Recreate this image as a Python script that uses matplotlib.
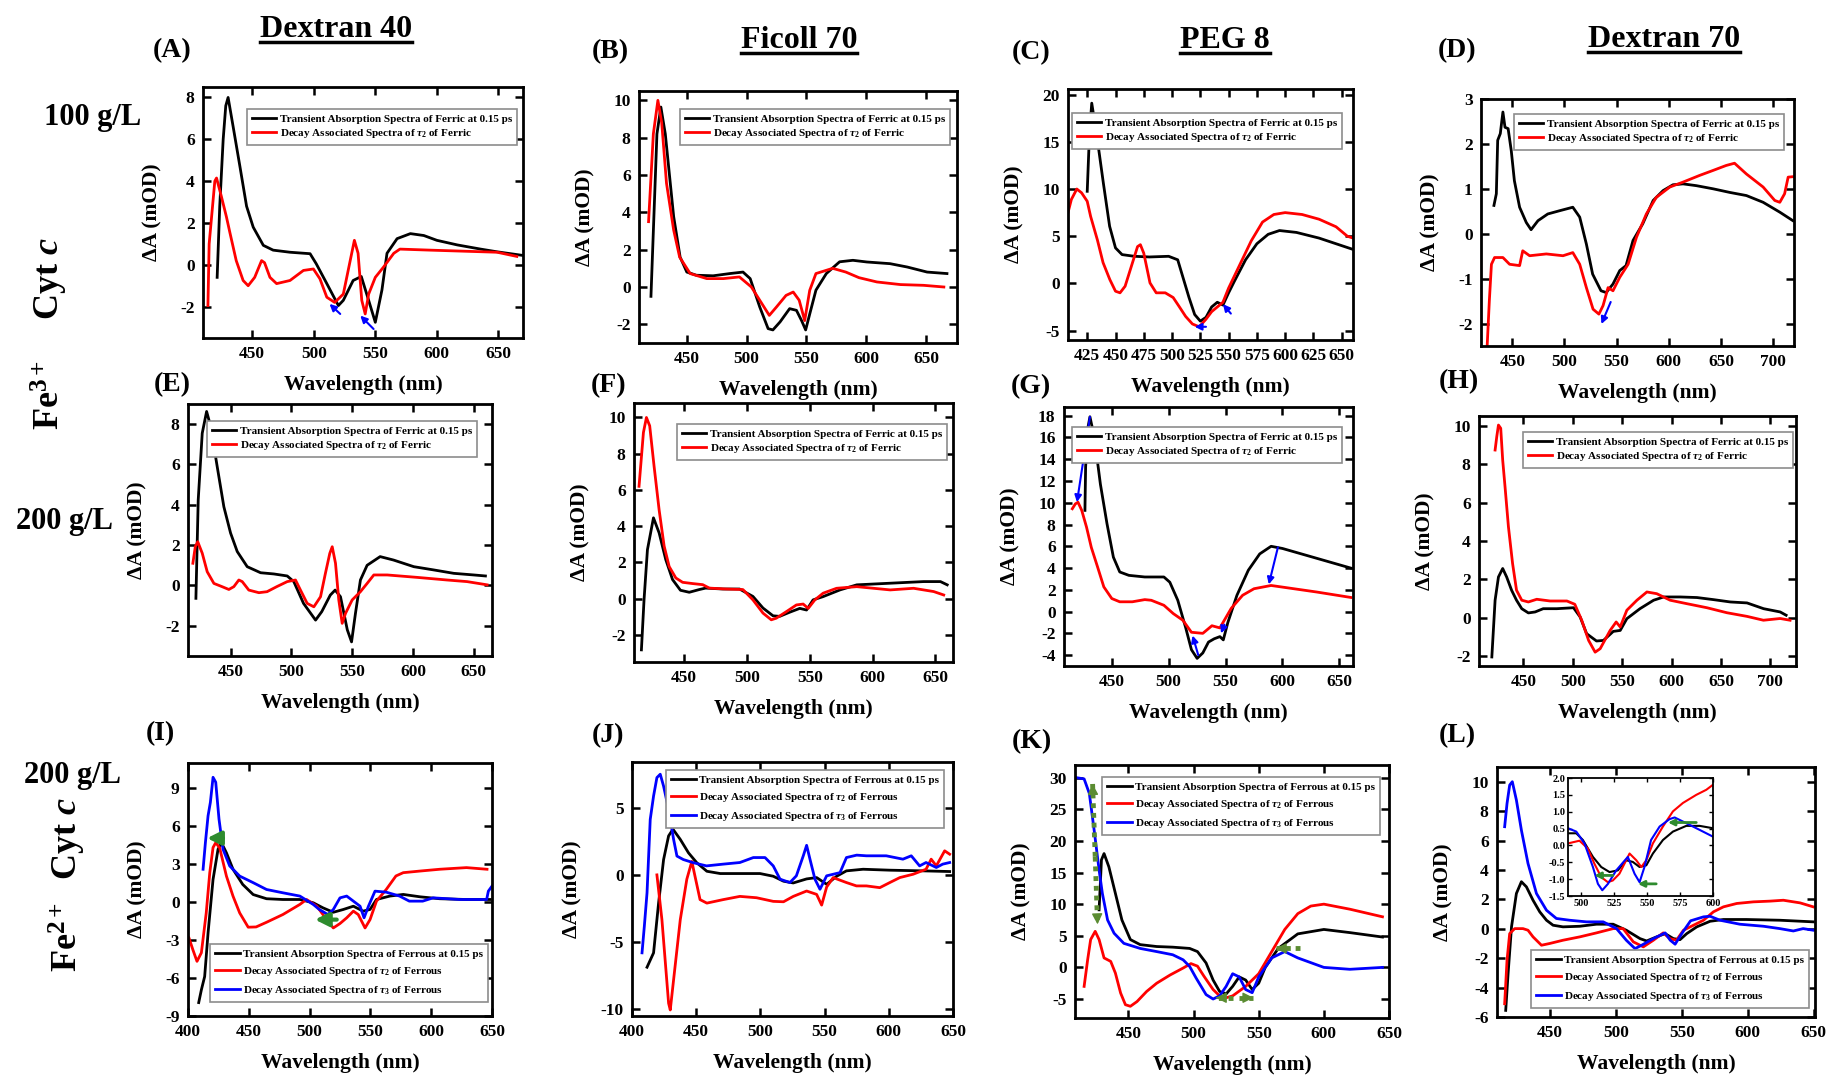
import matplotlib
matplotlib.use('Agg')
import matplotlib.pyplot as plt
from matplotlib.lines import Line2D

W, H = 1830, 1076

# ---- spectra: wavelength (nm) / dA (mOD) ----
A_BLACK_X = [421.5, 423.6, 426.4, 428.5, 430.4, 434.5, 440, 445.4, 450.8, 459, 467, 480.7, 497, 502, 510.6, 520, 524, 532, 538.6, 544.6, 550, 555.4, 559.5, 567.7, 578.5, 589.4, 600, 616.6, 635.6, 649, 669.6]
A_BLACK_Y = [-0.6, 2.8, 6.0, 7.6, 8.0, 6.6, 4.7, 2.8, 1.8, 0.93, 0.7, 0.6, 0.53, 0.05, -0.9, -1.95, -1.7, -0.75, -0.56, -1.7, -2.75, -1.2, 0.55, 1.25, 1.49, 1.4, 1.17, 0.95, 0.75, 0.62, 0.45]
A_RED_X = [414, 415, 419.6, 421, 425, 429, 432, 437, 442.6, 446.7, 452, 457.6, 460, 464.4, 469.8, 480.7, 491.6, 499.7, 505, 510.6, 517, 524, 529.6, 533, 536, 539, 541.8, 544.6, 550, 556.8, 565, 570, 594.8, 622, 649, 665]
A_RED_Y = [-1.95, 1.0, 4.0, 4.15, 3.25, 2.3, 1.5, 0.2, -0.75, -1.0, -0.6, 0.2, 0.1, -0.6, -0.9, -0.75, -0.27, -0.2, -0.67, -1.55, -1.8, -1.4, 0.2, 1.17, 0.55, -1.7, -2.35, -1.4, -0.6, -0.1, 0.55, 0.75, 0.7, 0.65, 0.6, 0.4]

B_BLACK_X = [420, 425, 428.3, 432, 439, 444.4, 450, 458, 472, 486, 497, 503, 511, 518, 522, 528, 536, 541.7, 546, 549.4, 553, 558, 566.7, 577.8, 588.9, 600.6, 620, 634.4, 651, 667.6]
B_BLACK_Y = [-0.5, 8.2, 9.64, 8.2, 3.77, 1.6, 0.8, 0.63, 0.6, 0.72, 0.8, 0.45, -1.07, -2.23, -2.3, -1.87, -1.16, -1.25, -1.8, -2.3, -1.4, -0.17, 0.72, 1.35, 1.43, 1.34, 1.25, 1.07, 0.8, 0.72]
B_RED_X = [418, 422, 425.8, 429, 433, 439, 444, 452.8, 466.7, 480.6, 494, 504, 511, 519, 525, 533, 539, 544, 548.6, 552.8, 558, 572, 583, 594, 609, 628.7, 648, 665]
B_RED_Y = [3.5, 8.2, 10.0, 8.8, 5.56, 3.05, 1.6, 0.72, 0.45, 0.45, 0.54, 0, -0.71, -1.52, -1.07, -0.45, -0.27, -0.71, -1.8, -0.18, 0.72, 1.0, 0.8, 0.5, 0.27, 0.13, 0.09, 0.0]

C_BLACK_X = [425, 427, 429, 434, 439.3, 444.8, 450, 455.8, 466.7, 480, 497, 505, 510, 515, 520, 525, 530, 535, 540, 545, 550, 555, 565, 575, 585, 595, 610, 630, 645, 660]
C_BLACK_Y = [9.76, 15.9, 19.1, 15.2, 10.6, 6.05, 3.76, 3.05, 2.87, 2.8, 2.87, 2.5, 0.5, -1.5, -3.3, -4.0, -3.6, -2.5, -2.0, -2.3, -1.0, 0.2, 2.5, 4.2, 5.2, 5.6, 5.4, 4.8, 4.2, 3.6]
C_RED_X = [408, 411, 415.8, 420, 425, 428, 434, 439, 445, 450, 454, 458.5, 464, 469.5, 472, 475, 480.5, 486, 494, 501, 506, 512, 518, 524, 530, 535, 540, 545, 550, 560, 570, 580, 590, 600, 615, 630, 645, 655, 660]
C_RED_Y = [7.5, 8.9, 10.0, 9.6, 8.7, 7.1, 4.6, 2.2, 0.4, -0.83, -1.0, -0.3, 1.8, 3.9, 4.1, 3.2, 0.05, -1.0, -1.0, -1.5, -2.4, -3.5, -4.3, -4.6, -3.8, -3.0, -2.5, -2.0, -0.5, 2.0, 4.5, 6.5, 7.3, 7.5, 7.3, 6.8, 6.0, 5.0, 4.8]

D_BLACK_X = [432.4, 434.7, 436, 438.5, 441, 443, 446, 449, 452, 457, 463.4, 468, 474.6, 484, 495, 508, 514.6, 521, 527, 535, 540, 546.5, 553, 559, 565.7, 575, 585, 594.5, 604, 613.7, 626.5, 642.5, 658.4, 674.4, 690.4, 706.4, 719]
D_BLACK_Y = [0.63, 0.89, 2.08, 2.23, 2.71, 2.37, 2.34, 1.85, 1.18, 0.59, 0.25, 0.09, 0.29, 0.44, 0.51, 0.59, 0.37, -0.23, -0.9, -1.27, -1.31, -1.12, -0.82, -0.71, -0.15, 0.22, 0.74, 0.96, 1.09, 1.11, 1.07, 1.0, 0.92, 0.85, 0.7, 0.48, 0.29]
D_RED_X = [425.7, 428, 430, 433, 441, 447.4, 457, 460, 466.6, 482.6, 498.6, 508, 514.6, 521, 527.4, 533, 537, 541.8, 546.5, 553, 561, 569, 578.5, 588, 601, 613.7, 629.7, 642.5, 655, 663, 674.4, 690.4, 701.6, 706.4, 711, 714.4, 719]
D_RED_Y = [-2.6, -1.49, -0.68, -0.53, -0.53, -0.68, -0.71, -0.38, -0.49, -0.45, -0.49, -0.42, -0.68, -1.2, -1.68, -1.79, -1.6, -1.2, -1.27, -0.97, -0.68, -0.08, 0.44, 0.81, 1.04, 1.15, 1.3, 1.41, 1.52, 1.57, 1.33, 1.04, 0.74, 0.7, 0.89, 1.26, 1.27]

E_BLACK_X = [421.5, 423.4, 426.7, 430.3, 433.6, 439, 444.5, 450, 455.5, 463.7, 474.7, 485.6, 496.6, 502, 510, 519.9, 525, 532, 536, 540.4, 546, 549.5, 552.7, 556.8, 562.3, 573, 584, 600.7, 617, 633.6, 650, 659.6]
E_BLACK_Y = [-0.64, 4.24, 7.55, 8.63, 7.9, 5.9, 3.9, 2.6, 1.68, 0.93, 0.63, 0.57, 0.47, 0.19, -0.89, -1.72, -1.3, -0.48, -0.23, -0.56, -2.2, -2.8, -1.39, 0.27, 1.0, 1.43, 1.26, 0.93, 0.77, 0.6, 0.52, 0.47]
E_RED_X = [419, 421, 423, 426.7, 430.8, 436.3, 443, 448.6, 452.7, 456.8, 459.6, 465, 473.3, 480, 488, 496.6, 503.4, 507.5, 513, 518.5, 524, 528, 531.6, 533.6, 536.3, 539, 541.8, 544.5, 550, 556.8, 562.3, 567.8, 578.8, 603.4, 628, 644.5, 661]
E_RED_Y = [1.1, 1.92, 2.17, 1.6, 0.68, 0.1, -0.06, -0.2, -0.06, 0.27, 0.19, -0.23, -0.36, -0.31, -0.06, 0.19, 0.27, -0.23, -0.89, -1.06, -0.56, 0.6, 1.59, 1.92, 1.1, -0.72, -1.88, -1.39, -0.72, -0.31, 0.1, 0.52, 0.52, 0.4, 0.27, 0.19, 0.03]

F_BLACK_X = [415.9, 418, 420.7, 425.5, 430, 435.3, 440.7, 447, 454, 462, 467, 480.7, 494, 504.7, 512.7, 520.7, 526, 534, 542, 547.4, 552.6, 560.6, 574, 587.4, 614, 640.6, 654, 659.4]
F_BLACK_Y = [-2.83, -0.06, 2.7, 4.46, 3.63, 2.15, 1.05, 0.46, 0.35, 0.5, 0.58, 0.53, 0.53, 0.12, -0.52, -0.95, -0.98, -0.75, -0.54, -0.63, -0.07, 0.11, 0.48, 0.76, 0.85, 0.94, 0.94, 0.76]
F_RED_X = [414, 415.3, 417.5, 419.9, 422.5, 426, 430, 434, 438, 443.3, 448.7, 456.7, 464.7, 470, 483.3, 496.7, 504.7, 512.7, 519.3, 523.3, 531.3, 539.3, 544.7, 548.7, 554, 560.6, 571.3, 587.4, 614, 632.6, 648.6, 656.6]
F_RED_Y = [6.2, 7.3, 9.17, 10.0, 9.54, 7.3, 4.9, 2.9, 1.77, 1.14, 0.9, 0.83, 0.77, 0.58, 0.53, 0.5, -0.07, -0.8, -1.17, -1.08, -0.72, -0.35, -0.3, -0.54, -0.07, 0.3, 0.57, 0.66, 0.48, 0.57, 0.39, 0.2]

G_BLACK_X = [426.4, 427, 429, 430.8, 434.7, 440, 445.8, 451.4, 457, 465, 479, 495.8, 501, 508, 515, 520, 525, 530, 535, 540, 545, 548, 552, 560, 570, 580, 590, 600, 620, 640, 660]
G_BLACK_Y = [9.3, 13.3, 16.9, 17.9, 16, 11.7, 8.07, 5.0, 3.64, 3.33, 3.18, 3.18, 2.7, 1.04, -1.5, -3.5, -4.3, -3.8, -2.8, -2.5, -2.3, -2.6, -1.0, 1.5, 3.8, 5.3, 6.0, 5.8, 5.2, 4.6, 4.0]
G_RED_X = [415.3, 418, 420.3, 423.6, 427.8, 432, 437.5, 443, 450, 457, 468, 479, 484.7, 495.8, 504, 512.5, 520, 530, 538, 545, 550, 555, 565, 575, 590, 610, 630, 660]
G_RED_Y = [9.45, 9.9, 10.05, 9.3, 7.76, 5.9, 4.1, 2.27, 1.2, 0.9, 0.9, 1.1, 1.04, 0.58, -0.18, -0.8, -1.9, -2.0, -1.3, -1.5, -0.6, 0.3, 1.5, 2.1, 2.4, 2.1, 1.8, 1.3]

H_BLACK_X = [418, 421.3, 424.7, 429, 433, 438, 443, 448.3, 455, 461.8, 470, 483.8, 500.7, 507.4, 514, 524, 531, 541, 548, 554.7, 568, 581.8, 592, 608.8, 625.7, 642.6, 659.5, 676.4, 693.2, 710, 716]
H_BLACK_Y = [-2.03, 0.92, 2.13, 2.57, 2.13, 1.44, 0.92, 0.48, 0.26, 0.31, 0.48, 0.48, 0.53, 0.05, -0.82, -1.2, -1.17, -0.7, -0.65, -0.04, 0.48, 0.92, 1.09, 1.09, 1.06, 0.95, 0.83, 0.78, 0.48, 0.31, 0.14]
H_RED_X = [421.3, 423, 424.7, 427, 429, 431.4, 434.8, 439, 443, 448.3, 455, 463.5, 477, 494, 502, 509, 516, 522.6, 527.7, 537.8, 543.9, 548, 554.7, 564.9, 575, 585, 598.6, 615.5, 635.8, 656, 676.4, 693, 710, 720]
H_RED_Y = [8.73, 9.43, 10.03, 9.86, 8.2, 6.8, 4.74, 2.83, 1.44, 0.92, 0.83, 0.97, 0.88, 0.88, 0.71, -0.12, -1.17, -1.78, -1.6, -0.65, -0.21, -0.47, 0.4, 0.92, 1.35, 1.26, 0.92, 0.74, 0.53, 0.27, 0.08, -0.12, -0.03, -0.12]

I_BLACK_X = [408.8, 411, 413.7, 416.5, 420.6, 424.7, 427.5, 431.6, 437, 445, 453.6, 464.6, 478, 492, 503, 511, 519.5, 527.7, 536, 544, 549.7, 555, 566, 577, 591, 607, 629, 648.6]
I_BLACK_Y = [-7.94, -6.93, -5.88, -2.43, 1.8, 4.18, 4.7, 3.9, 2.6, 1.4, 0.6, 0.27, 0.21, 0.21, -0.05, -0.45, -0.8, -0.58, -0.32, -0.71, -0.58, 0.21, 0.48, 0.61, 0.42, 0.27, 0.21, 0.21]
I_RED_X = [400.8, 404, 407.4, 411, 415, 417.9, 420.6, 422.8, 426, 431.6, 437, 442.5, 449.5, 456, 464.6, 478, 492, 497.5, 506, 514, 519.5, 525, 530.5, 536, 540, 545.6, 549.7, 555, 563, 571, 577, 591, 607, 629, 645.9]
I_RED_Y = [-2.83, -3.76, -4.68, -4.0, -0.85, 2.33, 4.32, 4.7, 4.3, 2.06, 0.48, -0.85, -1.98, -1.96, -1.59, -0.98, -0.18, 0.21, -0.32, -1.38, -2.04, -1.69, -1.24, -0.71, -0.98, -2.04, -1.38, 0.08, 1.0, 2.07, 2.33, 2.46, 2.6, 2.73, 2.6]
I_BLUE_X = [412.4, 414.3, 416.5, 418.4, 420.6, 422.8, 425.5, 428.8, 434.3, 442.5, 453.6, 464.6, 478, 492, 503, 508, 515, 519.5, 525, 530.5, 536, 541.5, 544.8, 548.4, 553.8, 563, 574, 582, 593, 601.6, 623.6, 645.6, 647, 650]
I_BLUE_Y = [2.6, 4.7, 6.83, 7.89, 9.87, 9.48, 6.56, 4.18, 2.86, 2.06, 1.54, 1.0, 0.74, 0.48, -0.18, -0.58, -0.98, -0.58, 0.34, 0.48, 0.08, -0.32, -1.24, -0.32, 0.87, 0.79, 0.48, 0.08, 0.08, 0.34, 0.21, 0.21, 0.87, 1.27]

J_BLACK_X = [411.7, 416.8, 420.7, 424.6, 428.5, 431.9, 437.6, 444, 450.5, 458.3, 468.7, 484, 499.7, 510, 518, 525.6, 536, 543.8, 551.6, 559.4, 567, 580, 600.8, 626.7, 647.4]
J_BLACK_Y = [-6.87, -5.8, -2.1, 1.14, 2.9, 3.4, 2.64, 1.64, 0.9, 0.27, 0.1, 0.1, 0.1, -0.1, -0.47, -0.6, -0.3, -0.2, -0.7, -0.1, 0.3, 0.42, 0.35, 0.3, 0.25]
J_RED_X = [419.4, 423.3, 428.5, 429.8, 432.4, 437.6, 442.7, 446.6, 449, 453, 458.3, 471, 484, 497, 510, 518, 525.6, 536, 543.8, 547.7, 551.6, 556.7, 559.4, 567, 574.8, 582.6, 593, 600.8, 608.6, 619, 629, 633, 637, 643.5, 647.4]
J_RED_Y = [0, -3.33, -9.55, -10.05, -7.8, -3.33, -0.32, 1.0, -0.07, -1.84, -2.1, -1.84, -1.6, -1.7, -1.97, -2.0, -1.6, -1.2, -1.45, -2.25, -0.9, -0.2, -0.3, -0.57, -0.82, -0.82, -0.95, -0.57, -0.2, 0.05, 0.42, 1.17, 0.67, 1.79, 1.54]
J_BLUE_X = [407.8, 409.6, 411.7, 414.2, 416.8, 419.4, 422, 424.6, 428.5, 432.4, 435, 440, 448, 458, 471, 484, 494.5, 503.6, 510, 515.3, 523, 528, 533.4, 536, 538.6, 542.5, 546.4, 551.6, 562, 567, 575, 582.6, 598, 611, 617.5, 624, 629, 637, 642, 647.4]
J_BLUE_Y = [-5.8, -3.83, -1.34, 4.13, 5.87, 7.24, 7.49, 6.6, 4.88, 2.64, 1.4, 1.14, 0.9, 0.67, 0.8, 0.92, 1.29, 1.29, 0.67, -0.32, -0.57, -0.07, 1.42, 2.2, 1.17, -0.32, -1.07, -0.07, 0.17, 1.29, 1.47, 1.42, 1.42, 1.17, 1.42, 0.67, 0.92, 0.55, 0.8, 0.92]

K_BLACK_X = [427.5, 429.3, 431.3, 435, 440, 445, 451.5, 459, 471.7, 484, 497, 503, 509.6, 515, 520, 525, 530, 535, 540, 545, 550, 555, 565, 580, 600, 620, 645]
K_BLACK_Y = [9.1, 17, 18, 15.9, 11.7, 7.5, 4.4, 3.6, 3.3, 3.2, 3.0, 2.5, 0.7, -2.0, -3.8, -4.2, -3.0, -1.5, -2.0, -3.5, -2.5, 0.0, 3.0, 5.3, 6.0, 5.5, 4.8]
K_RED_X = [416, 418.7, 421, 424.5, 427.5, 431.3, 436.4, 440, 444, 447.7, 451.5, 456.6, 464, 471.7, 482, 492, 498, 503, 508, 515, 520, 525, 530, 540, 550, 560, 570, 580, 590, 600, 620, 645]
K_RED_Y = [-3.0, 1.2, 4.4, 5.7, 4.4, 1.5, 0.95, -0.9, -4.05, -5.9, -6.15, -5.4, -3.8, -2.5, -1.2, -0.1, 0.6, 0.2, -1.4, -3.5, -4.5, -4.8, -4.5, -3.0, -1.0, 2.5, 6.0, 8.5, 9.7, 10.0, 9.2, 8.0]
K_BLUE_X = [410, 416, 420, 423.7, 427.5, 430, 434, 439, 446.5, 459, 471.7, 484, 492, 497, 502, 509.6, 515, 520, 525, 530, 535, 540, 545, 550, 560, 570, 580, 600, 620, 645]
K_BLUE_Y = [30, 29.8, 27.5, 21.7, 15.4, 11.7, 7.5, 5.4, 3.8, 3.0, 2.5, 2.0, 1.2, 0.15, -1.7, -4.3, -5.0, -4.5, -3.0, -1.0, -1.5, -3.5, -4.0, -1.5, 1.5, 2.5, 1.5, 0.0, -0.3, 0.0]

L_BLACK_X = [416.6, 418.4, 421, 424.7, 428.5, 432.3, 437.3, 442.4, 447.5, 452.5, 460, 472.8, 485.4, 498, 508, 518.4, 523.4, 531, 537.4, 543.7, 548.7, 553.8, 561.4, 571.5, 581.6, 599, 624.4, 649.7]
L_BLACK_Y = [-5.55, -3.05, 0.13, 2.4, 3.2, 2.85, 1.94, 1.15, 0.58, 0.24, 0.13, 0.17, 0.31, 0.31, -0.1, -0.67, -0.83, -0.55, -0.33, -0.67, -0.74, -0.33, 0.13, 0.51, 0.63, 0.63, 0.58, 0.47]
L_RED_X = [415.8, 417.6, 419.6, 423.4, 429.7, 433.5, 437.3, 443.7, 450, 460, 472.8, 485.4, 498, 505.6, 513.3, 520.9, 528.5, 536, 541, 546, 551.3, 558.9, 566.5, 574, 581.6, 591.7, 604.3, 617, 627, 639.7, 649.7]
L_RED_Y = [-5.1, -2.14, -0.33, 0.01, 0.01, -0.1, -0.55, -1.12, -1.0, -0.78, -0.55, -0.28, 0.01, 0.01, -0.89, -1.23, -0.78, -0.28, -0.67, -0.78, -0.1, 0.24, 0.58, 1.15, 1.49, 1.72, 1.83, 1.88, 1.94, 1.76, 1.49]
L_BLUE_X = [415.8, 417.6, 419.6, 421.6, 424.7, 428.5, 433.5, 439.9, 447.5, 455, 465, 477.8, 490.5, 500.6, 508, 514.6, 519.6, 528.5, 537.4, 541.3, 545, 550, 556.7, 566.5, 571.5, 579, 594, 612, 624.4, 634.6, 642, 649.7]
L_BLUE_Y = [6.94, 8.52, 9.77, 10.0, 8.75, 6.7, 4.44, 2.4, 1.26, 0.7, 0.58, 0.47, 0.47, 0.01, -0.78, -1.35, -1.12, -0.67, -0.28, -0.78, -1.05, -0.33, 0.54, 0.81, 0.85, 0.58, 0.31, 0.17, 0.01, -0.15, 0.01, -0.1]

# L inset (zoom of 490-600 nm)
LI_BLACK_X = [490, 496.3, 501.3, 508.9, 515.2, 521.5, 527.8, 534.2, 539.2, 544.3, 549.4, 554.4, 562, 569.6, 579.7, 589.9, 600]
LI_BLACK_Y = [0.36, 0.36, 0.16, -0.34, -0.64, -0.79, -0.74, -0.44, -0.49, -0.64, -0.59, -0.24, 0.16, 0.41, 0.58, 0.58, 0.51]
LI_RED_X = [490, 498.7, 505, 510, 515.2, 520.2, 524, 529, 536.7, 541.8, 545.6, 549.4, 554.4, 562, 569.6, 577.2, 587.3, 594.9, 600]
LI_RED_Y = [0.06, 0.14, -0.09, -0.54, -0.94, -1.09, -1.04, -0.84, -0.24, -0.44, -0.64, -0.44, 0.06, 0.56, 1.01, 1.26, 1.5, 1.65, 1.8]
LI_BLUE_X = [490, 496.3, 502.5, 508.9, 512.7, 516, 520.3, 526.6, 535.4, 540.5, 544.3, 548, 553, 559.5, 567, 570.9, 579.7, 589.9, 600]
LI_BLUE_Y = [0.51, 0.41, 0.06, -0.64, -1.14, -1.33, -1.14, -0.74, -0.34, -0.84, -1.09, -0.64, 0.16, 0.56, 0.78, 0.83, 0.66, 0.46, 0.26]

# annotation arrows: (tail x, tail y, head x, head y)
A_ARROWS = [(521.5, -2.35, 512.8, -1.87), (548.6, -3.07, 537.8, -2.43)]
C_ARROWS = [(530, -4.6, 520, -4.6), (552, -3.2, 545, -2.2)]
D_ARROWS = [(544.3, -1.52, 535.4, -2.01)]
G_ARROWS = [(430.8, 17.9, 419.4, 10.05), (526, -4.0, 521, -2.2), (549, -1.2, 546, -2.0), (596, 5.9, 588, 2.5)]
I_ARROWS = [(428.8, 5.06, 415.7, 5.06), (522.3, -1.38, 504.4, -1.38)]
K_DOTTED = [(424.5, 17.5, 422.5, 29.0), (424.5, 17.5, 426.3, 6.8), (530, -4.8, 517, -4.8),
            (535, -4.8, 546, -4.8), (582, 3.0, 563, 3.0)]
LI_ARROWS = [(524, -0.89, 510, -0.89), (556.9, -1.14, 543, -1.14), (587.3, 0.68, 565.8, 0.68)]

FERRIC = ['Transient Absorption Spectra of Ferric at 0.15 ps',
          'Decay Associated Spectra of $\\tau_2$ of Ferric']
FERROUS = ['Transient Absorption Spectra of Ferrous at 0.15 ps',
           'Decay Associated Spectra of $\\tau_2$ of Ferrous',
           'Decay Associated Spectra of $\\tau_3$ of Ferrous']

SERIF = ['Liberation Serif', 'DejaVu Serif']
plt.rcParams['font.family'] = SERIF
plt.rcParams['font.weight'] = 'bold'
plt.rcParams['mathtext.fontset'] = 'custom'
plt.rcParams['mathtext.rm'] = 'Liberation Serif:bold'
plt.rcParams['mathtext.it'] = 'Liberation Serif:italic:bold'
plt.rcParams['mathtext.bf'] = 'Liberation Serif:bold'
plt.rcParams['axes.unicode_minus'] = False
BOLD = dict(fontfamily=SERIF, fontweight='bold')

fig = plt.figure(figsize=(W / 100, H / 100), dpi=100)


def px_box(l, r, t, b):
    return [l / W, 1 - b / H, (r - l) / W, (b - t) / H]


def fmt(v):
    return ('%g' % v) if float(v).is_integer() else ('%.1f' % v)


def panel(box, xlim, ylim, xticks, yticks, series, labels, leg_xy, leg_loc, lspace=0.3):
    ax = fig.add_axes(px_box(*box))
    handles = []
    for x, y, c in series:
        h, = ax.plot(x, y, color=c, lw=2)
        handles.append(h)
    ax.set_xlim(xlim)
    ax.set_ylim(ylim)
    ax.set_xticks(list(xticks), [fmt(v) for v in xticks], fontsize=12.5, **BOLD)
    ax.set_yticks(list(yticks), [fmt(v) for v in yticks], fontsize=12.5, **BOLD)
    ax.tick_params(direction='in', top=True, right=True, length=6, width=1.8, pad=6)
    for s in ax.spines.values():
        s.set_linewidth(2)
    ax.set_xlabel('Wavelength (nm)', fontsize=15.5, labelpad=9, **BOLD)
    ax.set_ylabel('ΔA (mOD)', fontsize=15.5, labelpad=13, **BOLD)
    leg = ax.legend(handles, labels, loc=leg_loc,
                    bbox_to_anchor=(leg_xy[0] / W, 1 - leg_xy[1] / H),
                    bbox_transform=fig.transFigure, borderaxespad=0,
                    prop=dict(family=SERIF, weight='bold', size=8),
                    handlelength=2.2, handletextpad=0.3,
                    labelspacing=lspace, borderpad=0.45, fancybox=False,
                    framealpha=1)
    leg.get_frame().set_edgecolor('#8c8c8c')
    leg.get_frame().set_linewidth(1.2)
    return ax


def arrows(ax, arr, color, lw=1.5, scale=10):
    for x0, y0, x1, y1 in arr:
        ax.annotate('', xy=(x1, y1), xytext=(x0, y0),
                    arrowprops=dict(arrowstyle='-|>', color=color, lw=lw,
                                    mutation_scale=scale, shrinkA=0, shrinkB=0))


def dotted_arrows(ax, arr, color):
    for x0, y0, x1, y1 in arr:
        ax.plot([x0, x1], [y0, y1], color=color, lw=3.5, ls=(0, (1, 1)))
        xs, ys = x1 - (x1 - x0) * 0.12, y1 - (y1 - y0) * 0.12
        ax.annotate('', xy=(x1, y1), xytext=(xs, ys),
                    arrowprops=dict(arrowstyle='-|>', color=color, lw=1,
                                    mutation_scale=16, shrinkA=0, shrinkB=0))


K, R, B = 'black', '#ff0000', '#0000ff'
x450 = [450, 500, 550, 600, 650]

ax = panel((203, 523, 87, 338), (410, 670), (-3.5, 8.5), x450, range(-2, 9, 2),
           [(A_BLACK_X, A_BLACK_Y, K), (A_RED_X, A_RED_Y, R)], FERRIC, (517, 109), 'upper right')
arrows(ax, A_ARROWS, B)
panel((639, 957, 91, 343), (410, 676), (-3, 10.5), x450, range(-2, 11, 2),
      [(B_BLACK_X, B_BLACK_Y, K), (B_RED_X, B_RED_Y, R)], FERRIC, (950, 109), 'upper right')
ax = panel((1068, 1353, 89, 340), (408, 660), (-6, 20.6), range(425, 651, 25), range(-5, 21, 5),
           [(C_BLACK_X, C_BLACK_Y, K), (C_RED_X, C_RED_Y, R)], FERRIC, (1342, 113), 'upper right')
arrows(ax, C_ARROWS, B)
ax = panel((1481, 1794, 99, 346), (420, 720), (-2.5, 3), [450, 500, 550, 600, 650, 700], range(-2, 4),
           [(D_BLACK_X, D_BLACK_Y, K), (D_RED_X, D_RED_Y, R)], FERRIC, (1784, 114), 'upper right')
arrows(ax, D_ARROWS, B)

panel((188, 492, 404, 656), (415, 665), (-3.5, 9), x450, range(-2, 9, 2),
      [(E_BLACK_X, E_BLACK_Y, K), (E_RED_X, E_RED_Y, R)], FERRIC, (477, 421), 'upper right')
panel((634, 953, 403, 662), (410, 664), (-3.5, 10.8), x450, range(-2, 11, 2),
      [(F_BLACK_X, F_BLACK_Y, K), (F_RED_X, F_RED_Y, R)], FERRIC, (947, 424), 'upper right')
ax = panel((1064, 1353, 407, 666), (408, 662), (-5, 18.8), x450, range(-4, 19, 2),
           [(G_BLACK_X, G_BLACK_Y, K), (G_RED_X, G_RED_Y, R)], FERRIC, (1342, 427), 'upper right')
arrows(ax, G_ARROWS, B)
panel((1479, 1796, 416, 666), (405, 726), (-2.5, 10.5), [450, 500, 550, 600, 650, 700], range(-2, 11, 2),
      [(H_BLACK_X, H_BLACK_Y, K), (H_RED_X, H_RED_Y, R)], FERRIC, (1793, 432), 'upper right')

ax = panel((188, 492, 763, 1016), (400, 650), (-9, 11), [400] + x450, range(-9, 10, 3),
           [(I_BLACK_X, I_BLACK_Y, K), (I_RED_X, I_RED_Y, R), (I_BLUE_X, I_BLUE_Y, B)],
           FERROUS, (488, 1002), 'lower right', 0.55)
arrows(ax, I_ARROWS, '#2e8b2e', lw=3, scale=20)
panel((632, 953, 762, 1016), (400, 650), (-10.5, 8.4), [400] + x450, [-10, -5, 0, 5],
      [(J_BLACK_X, J_BLACK_Y, K), (J_RED_X, J_RED_Y, R), (J_BLUE_X, J_BLUE_Y, B)],
      FERROUS, (944, 770), 'upper right', 0.55)
ax = panel((1075, 1389, 765, 1018), (409, 650), (-8, 32), x450, range(-5, 31, 5),
           [(K_BLACK_X, K_BLACK_Y, K), (K_RED_X, K_RED_Y, R), (K_BLUE_X, K_BLUE_Y, B)],
           FERROUS, (1380, 777), 'upper right', 0.55)
dotted_arrows(ax, K_DOTTED, '#5b8c32')
ax = panel((1497, 1815, 767, 1017), (410, 651), (-6, 11), x450, range(-6, 11, 2),
           [(L_BLACK_X, L_BLACK_Y, K), (L_RED_X, L_RED_Y, R), (L_BLUE_X, L_BLUE_Y, B)],
           FERROUS, (1809, 1008), 'lower right', 0.55)

# inset of panel L
axi = fig.add_axes(px_box(1568, 1713, 778, 896))
axi.plot(LI_BLACK_X, LI_BLACK_Y, color=K, lw=1.5)
axi.plot(LI_RED_X, LI_RED_Y, color=R, lw=1.5)
axi.plot(LI_BLUE_X, LI_BLUE_Y, color=B, lw=1.5)
axi.set_xlim(490, 600)
axi.set_ylim(-1.5, 2.0)
ix = [500, 525, 550, 575, 600]
iy = [-1.5, -1.0, -0.5, 0.0, 0.5, 1.0, 1.5, 2.0]
axi.set_xticks(ix, [fmt(v) for v in ix], fontsize=7.5, **BOLD)
axi.set_yticks(iy, ['%.1f' % v for v in iy], fontsize=7.5, **BOLD)
axi.tick_params(direction='in', top=True, right=True, length=3, width=1, pad=2)
for s in axi.spines.values():
    s.set_linewidth(1.3)
arrows(axi, LI_ARROWS, '#2e8b2e', lw=2, scale=9)

# panel letters
for lab, x, y in [('(A)', 172, 51), ('(B)', 610, 52), ('(C)', 1031, 53), ('(D)', 1457, 51),
                  ('(E)', 172, 385), ('(F)', 609, 386), ('(G)', 1031, 387), ('(H)', 1459, 382),
                  ('(I)', 160, 734), ('(J)', 608, 736), ('(K)', 1032, 742), ('(L)', 1457, 736)]:
    fig.text(x / W, 1 - y / H, lab, fontsize=20, ha='center', va='center', **BOLD)

# row labels
fig.text(93 / W, 1 - 117 / H, '100 g/L', fontsize=22, ha='center', va='center', **BOLD)
fig.text(64 / W, 1 - 522 / H, '200 g/L', fontsize=22, ha='center', va='center', **BOLD)
fig.text(72 / W, 1 - 775 / H, '200 g/L', fontsize=22, ha='center', va='center', **BOLD)
fig.text(49 / W, 1 - 333 / H, 'Fe$^{3+}$    Cyt $c$', fontsize=26, rotation=90,
         ha='center', va='center', **BOLD)
fig.text(67 / W, 1 - 885 / H, 'Fe$^{2+}$  Cyt $c$', fontsize=26, rotation=90,
         ha='center', va='center', **BOLD)

# column headers (underlined)
heads = []
for name, x, y in [('Dextran 40', 336, 37), ('Ficoll 70', 799, 47.5),
                   ('PEG 8', 1225, 47.5), ('Dextran 70', 1664, 47)]:
    t = fig.text(x / W, 1 - y / H, name, fontsize=23, ha='center', va='baseline', **BOLD)
    heads.append((t, y))
fig.canvas.draw()
rend = fig.canvas.get_renderer()
for t, y in heads:
    bb = t.get_window_extent(rend)
    yl = 1 - (y + 5) / H
    fig.add_artist(Line2D([bb.x0 / W, bb.x1 / W], [yl, yl], transform=fig.transFigure,
                          color='black', lw=2.5))

fig.savefig('out.png', dpi=100)
